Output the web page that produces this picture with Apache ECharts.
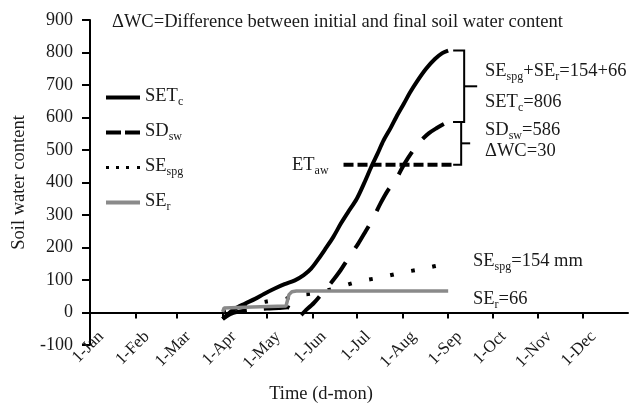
<!DOCTYPE html>
<html>
<head>
<meta charset="utf-8">
<script src="https://cdn.jsdelivr.net/npm/echarts@6/dist/echarts.min.js"></script>
<style>html,body{margin:0;padding:0;background:#fff}#c{width:631px;height:403px}</style>
</head>
<body>
<div id="c"></div>
<script>
// ---- data (day of year, value) ----
const monthStarts = [0, 31, 59, 90, 120, 151, 181, 212, 243, 273, 304, 334];
const monthLabels = ['1-Jan','1-Feb','1-Mar','1-Apr','1-May','1-Jun','1-Jul','1-Aug','1-Sep','1-Oct','1-Nov','1-Dec'];
const yTicks = [-100, 0, 100, 200, 300, 400, 500, 600, 700, 800, 900];

const setcDays = [90, 94, 98, 105, 112, 118, 125, 132, 139, 145, 150, 155, 160, 165, 170, 175, 181, 186, 191, 195, 199, 204, 208, 213, 217, 222, 228, 234, 239, 243];
const setcVals = [-20, -3, 11, 27, 42, 57, 73, 87, 99, 115, 135, 165, 198, 232, 272, 308, 350, 398, 450, 488, 528, 568, 603, 643, 676, 712, 750, 780, 798, 806];

const sdswDays = [90, 95, 100, 110, 120, 128, 134, 138, 141, 146, 152, 158, 164, 170, 175, 182, 187, 192, 197, 202, 208, 213, 219, 225, 230, 235, 240, 243];
const sdswVals = [-20, -5, 2, 8, 12, 14, 16, 4, -15, 5, 30, 62, 94, 130, 165, 212, 250, 289, 335, 375, 413, 455, 497, 531, 552, 567, 580, 586];

const sespgDays = [90, 100, 110, 120, 128, 133, 137, 142, 150, 165, 181, 196, 210, 226, 241, 243];
const sespgVals = [2, 12, 24, 34, 39, 42, 52, 55, 58, 73, 94, 107, 121, 135, 150, 154];

const serDays = [90, 91, 110, 133, 135, 137, 140, 243];
const serVals = [2, 14, 17, 20, 55, 64, 66, 66];

const etawDays = [172, 246];
const etawVals = [455, 455];

// brackets: [day, top value, bottom value]
const bracketData = [[243, 806, 586], [243, 586, 455]];

const zip = (a, b) => a.map((d, i) => [d, b[i]]);
const FONT = '"Liberation Serif", "Times New Roman", serif';
const TXT = '#1a1a1a';
const rich = {
  n: { fontFamily: FONT, fontSize: 18.5, color: TXT, lineHeight: 21, verticalAlign: 'top', padding: [0, 0, 3, 0] },
  s: { fontFamily: FONT, fontSize: 12, color: TXT, lineHeight: 12, verticalAlign: 'bottom' }
};

// rotated month labels sit slightly right of their tick (layout shift in days)
const LABEL_SHIFT = 7.5;
const labelValues = monthStarts.map(d => d + LABEL_SHIFT);

const chart = echarts.init(document.getElementById('c'), null, { renderer: 'canvas' });

function renderBracket(params, api) {
  const p1 = api.coord([api.value(0), api.value(1)]);
  const p2 = api.coord([api.value(0), api.value(2)]);
  const upper = params.dataIndex === 0;
  const armStart = p1[0] + 5;
  const vx = p1[0] + (upper ? 16 : 13);
  const tick = upper ? 13 : 9;
  const midY = (p1[1] + p2[1]) / 2;
  return {
    type: 'group',
    children: [
      { type: 'polyline', shape: { points: [[armStart, p1[1]], [vx, p1[1]], [vx, p2[1]], [armStart, p2[1]]] }, style: { stroke: '#000', lineWidth: 2, fill: null } },
      { type: 'line', shape: { x1: vx, y1: midY, x2: vx + tick, y2: midY }, style: { stroke: '#000', lineWidth: 2 } }
    ]
  };
}

function label(x, y, str) {
  return { type: 'text', left: x, top: y, style: { rich: rich, text: str, fill: TXT } };
}

const option = {
  animation: false,
  backgroundColor: '#fff',
  grid: { left: 90, right: 3, top: 20, bottom: 58, containLabel: false, outerBoundsMode: 'none' },
  xAxis: {
    type: 'value', min: 0, max: 365,
    name: 'Time (d-mon)', nameLocation: 'middle', nameGap: 40, nameMoveOverlap: false,
    nameTextStyle: { fontFamily: FONT, fontSize: 18.5, color: TXT, padding: [0, 76, 0, 0] },
    axisLine: { onZero: true, lineStyle: { color: '#000', width: 2 } },
    axisTick: { customValues: monthStarts, length: 6, lineStyle: { color: '#000', width: 2 } },
    axisLabel: {
      customValues: labelValues, rotate: 45, margin: -11, showMinLabel: true, showMaxLabel: true, hideOverlap: false,
      fontFamily: FONT, fontSize: 17, color: TXT,
      formatter: v => monthLabels[labelValues.indexOf(v)] || ''
    },
    splitLine: { show: false }
  },
  yAxis: {
    type: 'value', min: -100, max: 900, interval: 100,
    name: 'Soil water content', nameLocation: 'middle', nameGap: 57,
    nameTextStyle: { fontFamily: FONT, fontSize: 18.5, color: TXT },
    axisLine: { show: true, lineStyle: { color: '#000', width: 2 } },
    axisTick: { show: true, length: 8, lineStyle: { color: '#000', width: 2 } },
    axisLabel: { margin: 17, fontFamily: FONT, fontSize: 18, color: TXT, customValues: yTicks, showMinLabel: true, showMaxLabel: true },
    splitLine: { show: false }
  },
  legend: {
    orient: 'vertical', left: 101, top: 82, itemWidth: 34, itemHeight: 4, itemGap: 13,
    textStyle: { rich: rich },
    formatter: name => ({ 'SETc': '{n|SET}{s|c}', 'SDsw': '{n|SD}{s|sw}', 'SEspg': '{n|SE}{s|spg}', 'SEr': '{n|SE}{s|r}' })[name],
    data: [
      { name: 'SETc', icon: 'path://M0,0h34v4h-34z' },
      { name: 'SDsw', icon: 'path://M0,0h15v4h-15z M19,0h15v4h-15z' },
      { name: 'SEspg', icon: 'path://M0,0.5h3v3h-3z M10,0.5h3v3h-3z M20,0.5h3v3h-3z M31,0.5h3v3h-3z' },
      { name: 'SEr', icon: 'path://M0,0h34v4h-34z' }
    ]
  },
  series: [
    { name: 'SETc', type: 'line', data: zip(setcDays, setcVals), smooth: 0.3, symbol: 'none', lineStyle: { color: '#000', width: 4 }, itemStyle: { color: '#000' } },
    { name: 'SDsw', type: 'line', data: zip(sdswDays, sdswVals), smooth: 0.3, symbol: 'none', lineStyle: { color: '#000', width: 4, type: [26, 17] }, itemStyle: { color: '#000' } },
    { name: 'SEspg', type: 'line', data: zip(sespgDays, sespgVals), smooth: 0.3, symbol: 'none', lineStyle: { color: '#000', width: 4, type: [3.5, 18] }, itemStyle: { color: '#000' } },
    { name: 'SEr', type: 'line', data: zip(serDays, serVals), symbol: 'none', lineStyle: { color: '#8a8a8a', width: 3.5 }, itemStyle: { color: '#8a8a8a' } },
    { name: 'ETaw', type: 'line', data: zip(etawDays, etawVals), symbol: 'none', lineStyle: { color: '#000', width: 4, type: [10, 4] }, itemStyle: { color: '#000' } },
    { name: 'brackets', type: 'custom', data: bracketData, renderItem: renderBracket, silent: true, z: 3 }
  ],
  graphic: [
    { type: 'text', left: 112, top: 13, style: { text: 'ΔWC=Difference between initial and final soil water content', fontFamily: FONT, fontSize: 18.5, fill: TXT } },
    label(485, 62, '{n|SE}{s|spg}{n|+SE}{s|r}{n|=154+66}'),
    label(485, 93, '{n|SET}{s|c}{n|=806}'),
    label(485, 121, '{n|SD}{s|sw}{n|=586}'),
    label(485, 142, '{n|ΔWC=30}'),
    label(292, 156, '{n|ET}{s|aw}'),
    label(473, 252, '{n|SE}{s|spg}{n|=154 mm}'),
    label(473, 290, '{n|SE}{s|r}{n|=66}')
  ]
};
chart.setOption(option);
</script>
</body>
</html>
